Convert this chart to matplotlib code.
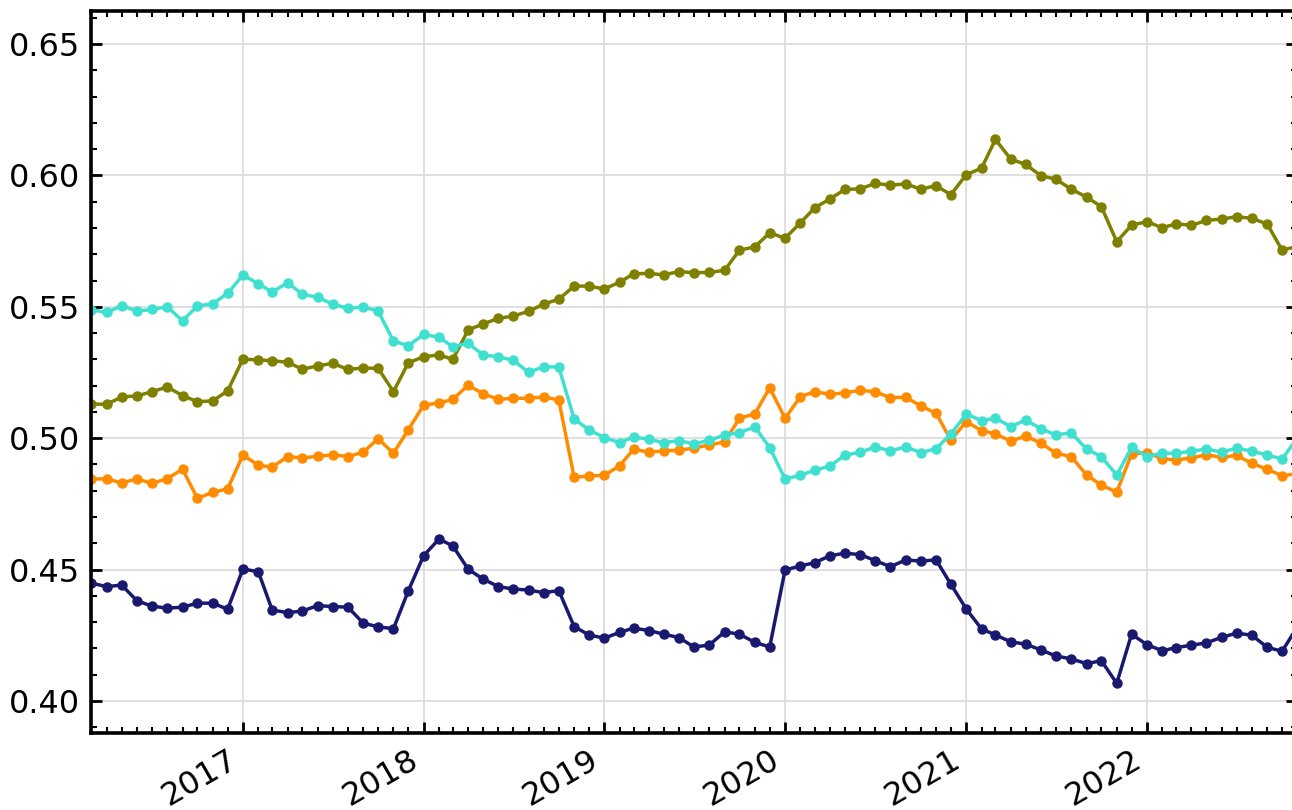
import numpy as np
import pandas as pd
import matplotlib
matplotlib.use("Agg")
import matplotlib.pyplot as plt
import matplotlib.dates as mdates
from matplotlib.ticker import MultipleLocator

# monthly series, 2016-03 .. 2022-11
dates = pd.date_range("2016-03-01", "2022-11-01", freq="MS")

turquoise = [0.5488, 0.5479, 0.5504, 0.5484, 0.5490, 0.5500, 0.5447, 0.5503, 0.5512, 0.5551,
             0.5621, 0.5588, 0.5556, 0.5592, 0.5548, 0.5536, 0.5511, 0.5494, 0.5500, 0.5484,
             0.5370, 0.5352, 0.5395, 0.5384, 0.5348, 0.5361, 0.5317, 0.5310, 0.5296, 0.5251,
             0.5272, 0.5271, 0.5073, 0.5032, 0.5002, 0.4983, 0.5005, 0.4996, 0.4983, 0.4991,
             0.4978, 0.4992, 0.5012, 0.5021, 0.5043, 0.4964, 0.4845, 0.4859, 0.4878, 0.4894,
             0.4936, 0.4946, 0.4967, 0.4952, 0.4967, 0.4945, 0.4960, 0.5016, 0.5092, 0.5067,
             0.5076, 0.5044, 0.5069, 0.5036, 0.5012, 0.5021, 0.4958, 0.4930, 0.4859, 0.4965,
             0.4930, 0.4943, 0.4943, 0.4950, 0.4959, 0.4947, 0.4962, 0.4951, 0.4936, 0.4921,
             0.5000]

orange = [0.4845, 0.4845, 0.4830, 0.4845, 0.4828, 0.4846, 0.4882, 0.4771, 0.4794, 0.4807,
          0.4936, 0.4897, 0.4890, 0.4930, 0.4925, 0.4931, 0.4937, 0.4930, 0.4947, 0.4998,
          0.4943, 0.5032, 0.5126, 0.5134, 0.5148, 0.5202, 0.5169, 0.5148, 0.5152, 0.5152,
          0.5157, 0.5145, 0.4851, 0.4856, 0.4859, 0.4895, 0.4958, 0.4947, 0.4952, 0.4954,
          0.4963, 0.4974, 0.4986, 0.5076, 0.5093, 0.5192, 0.5076, 0.5158, 0.5177, 0.5167,
          0.5173, 0.5182, 0.5177, 0.5154, 0.5156, 0.5123, 0.5095, 0.4993, 0.5063, 0.5029,
          0.5016, 0.4989, 0.5008, 0.4981, 0.4943, 0.4930, 0.4860, 0.4821, 0.4795, 0.4940,
          0.4945, 0.4922, 0.4917, 0.4925, 0.4937, 0.4927, 0.4935, 0.4904, 0.4882, 0.4857,
          0.4865]

olive = [0.5130, 0.5129, 0.5157, 0.5161, 0.5177, 0.5195, 0.5162, 0.5139, 0.5142, 0.5180,
         0.5301, 0.5298, 0.5295, 0.5289, 0.5263, 0.5275, 0.5285, 0.5262, 0.5267, 0.5266,
         0.5177, 0.5287, 0.5310, 0.5317, 0.5300, 0.5412, 0.5435, 0.5456, 0.5465, 0.5483,
         0.5511, 0.5529, 0.5579, 0.5579, 0.5568, 0.5594, 0.5626, 0.5627, 0.5622, 0.5634,
         0.5630, 0.5631, 0.5639, 0.5716, 0.5728, 0.5782, 0.5761, 0.5820, 0.5877, 0.5911,
         0.5947, 0.5949, 0.5970, 0.5963, 0.5968, 0.5948, 0.5961, 0.5927, 0.6003, 0.6028,
         0.6137, 0.6062, 0.6042, 0.5999, 0.5986, 0.5948, 0.5918, 0.5881, 0.5748, 0.5811,
         0.5824, 0.5801, 0.5816, 0.5810, 0.5829, 0.5834, 0.5843, 0.5837, 0.5815, 0.5716,
         0.5730]

navy = [0.4448, 0.4435, 0.4441, 0.4381, 0.4361, 0.4353, 0.4357, 0.4372, 0.4372, 0.4349,
        0.4502, 0.4492, 0.4346, 0.4336, 0.4342, 0.4363, 0.4359, 0.4357, 0.4296, 0.4282,
        0.4275, 0.4419, 0.4553, 0.4616, 0.4590, 0.4501, 0.4464, 0.4435, 0.4426, 0.4422,
        0.4412, 0.4420, 0.4283, 0.4251, 0.4239, 0.4261, 0.4277, 0.4268, 0.4254, 0.4241,
        0.4205, 0.4213, 0.4263, 0.4254, 0.4223, 0.4205, 0.4498, 0.4514, 0.4526, 0.4553,
        0.4562, 0.4557, 0.4534, 0.4511, 0.4537, 0.4532, 0.4537, 0.4444, 0.4350, 0.4274,
        0.4251, 0.4225, 0.4216, 0.4194, 0.4171, 0.4160, 0.4142, 0.4153, 0.4067, 0.4254,
        0.4214, 0.4191, 0.4203, 0.4212, 0.4221, 0.4242, 0.4258, 0.4250, 0.4204, 0.4189,
        0.4282]

fig = plt.figure(figsize=(12.92, 8.10), dpi=100)
ax = fig.add_axes([0.0708, 0.0951, 0.9334, 0.8913])

for vals, col in [(navy, "midnightblue"), (orange, "darkorange"),
                  (olive, "olive"), (turquoise, "turquoise")]:
    ax.plot(dates, vals, color=col, lw=2.5, marker="o", ms=6.5)

ax.set_xlim(dates[0], dates[-1])
ax.set_ylim(0.3878, 0.6626)

ax.xaxis.set_major_locator(mdates.YearLocator())
ax.xaxis.set_minor_locator(mdates.MonthLocator())
ax.xaxis.set_major_formatter(mdates.DateFormatter("%Y"))
ax.yaxis.set_major_locator(MultipleLocator(0.05))
ax.yaxis.set_minor_locator(MultipleLocator(0.01))
ax.yaxis.set_major_formatter(matplotlib.ticker.FormatStrFormatter("%.2f"))

ax.grid(True, which="major", color="#dddddd", lw=1.3)
ax.set_axisbelow(True)

ax.tick_params(which="both", direction="in", top=True, right=True, labelsize=23, pad=8)
ax.tick_params(which="major", length=8, width=2)
ax.tick_params(which="minor", length=4, width=1.5)
for s in ax.spines.values():
    s.set_linewidth(2.6)

plt.setp(ax.get_xticklabels(), rotation=30, ha="right")

fig.savefig("out.png", dpi=100)
